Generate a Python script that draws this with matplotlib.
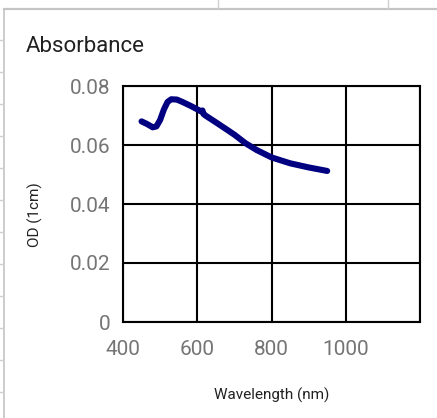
import matplotlib
matplotlib.use("Agg")
import matplotlib.pyplot as plt
from matplotlib.lines import Line2D

# absorbance spectrum, values
wavelength = [450, 465, 480, 490, 500, 510, 520, 530, 545, 560, 580, 600,
              610, 614, 617, 622, 650, 680, 700, 730, 760, 800, 850, 900, 950]
od = [0.0680, 0.0671, 0.0660, 0.0663, 0.0685, 0.0720, 0.0746, 0.0755,
      0.0754, 0.0746, 0.0734, 0.0721, 0.0714, 0.0717, 0.0705, 0.0700,
      0.0677, 0.0652, 0.0635, 0.0606, 0.0583, 0.0558, 0.0538, 0.0524, 0.0512]

x_ticks = [400, 600, 800, 1000, 1200]
x_labels = ["400", "600", "800", "1000", ""]
y_ticks = [0, 0.02, 0.04, 0.06, 0.08]
y_labels = ["0", "0.02", "0.04", "0.06", "0.08"]

W, H = 437, 418
plt.rcParams['font.family'] = ['Roboto', 'DejaVu Sans']

fig = plt.figure(figsize=(W / 100, H / 100), dpi=100)
fig.patch.set_facecolor('white')


def px(x, y):
    return x / W, 1 - y / H


# spreadsheet cells behind the chart
grey = '#d0d0d0'
fig.add_artist(Line2D([px(4, 0)[0], 1], [px(0, 9)[1]] * 2, color='#c4c4c4', lw=1.6))
fig.add_artist(Line2D([px(4, 0)[0]] * 2, [0, px(0, 9)[1]], color='#c4c4c4', lw=1.2))
for xc in [218, 388]:
    fig.add_artist(Line2D([px(xc, 0)[0]] * 2, [1, px(0, 8)[1]], color=grey, lw=1.0))
for yc in range(40, 418, 32):
    fig.add_artist(Line2D([0, px(3, 0)[0]], [px(0, yc)[1]] * 2, color=grey, lw=1.0))

ax = fig.add_axes([123 / W, 1 - 322 / H, (420 - 123) / W, (322 - 86) / H])

ax.plot(wavelength, od, color='#000080', lw=4.4,
        solid_capstyle='round', solid_joinstyle='round', zorder=3)

ax.set_xlim(400, 1200)
ax.set_ylim(0, 0.08)
ax.set_xticks(x_ticks)
ax.set_xticklabels(x_labels)
ax.set_yticks(y_ticks)
ax.set_yticklabels(y_labels)
ax.tick_params(length=0, labelsize=15, labelcolor='#757575')
ax.tick_params(axis='y', pad=9)
ax.tick_params(axis='x', pad=13)

ax.grid(True, color='black', lw=1.5)
for s in ax.spines.values():
    s.set_color('black')
    s.set_linewidth(1.5)

fig.text(26 / W, 1 - 46 / H, 'Absorbance', fontsize=16, color='#212121',
         ha='left', va='center')
fig.text(272 / W, 1 - 395 / H, 'Wavelength (nm)', fontsize=11, color='#212121',
         ha='center', va='center')
fig.text(35 / W, 1 - 215 / H, 'OD (1cm)', fontsize=11, color='#212121',
         ha='center', va='center', rotation=90)

fig.savefig('out.png', dpi=100)
